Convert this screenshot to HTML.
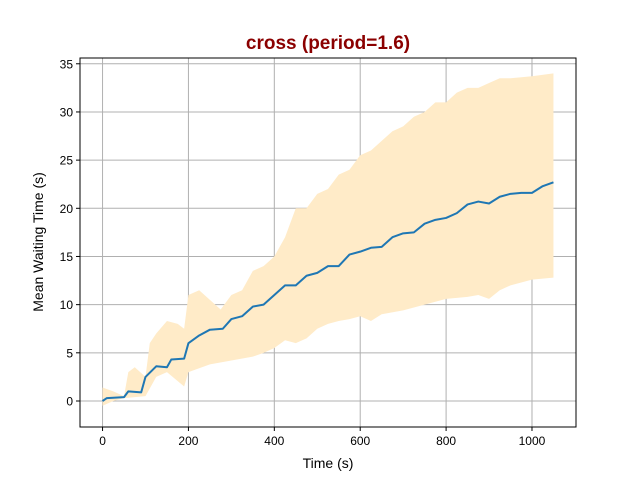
<!DOCTYPE html>
<html><head><meta charset="utf-8"><style>
body{margin:0;background:#fff;}
svg text{font-family:"Liberation Sans","DejaVu Sans",sans-serif;}
</style></head><body>
<svg id="chart" width="640" height="480" xmlns="http://www.w3.org/2000/svg">
<rect width="640" height="480" fill="#fff"/>
<g id="grid"></g>
<g id="band"></g>
<g id="line"></g>
<rect x="80" y="58" width="496" height="369" fill="none" stroke="#000" stroke-width="1"/>
<g id="ticks"></g>
<text x="328" y="49" text-anchor="middle" font-size="19" font-weight="bold" fill="#8b0000">cross (period=1.6)</text>
<text x="328" y="468" text-anchor="middle" font-size="14">Time (s)</text>
<text transform="translate(43,242) rotate(-90)" text-anchor="middle" font-size="14">Mean Waiting Time (s)</text>
</svg>
<script>
const meanX=[0,10,50,60,90,100,125,150,160,190,200,225,250,280,300,325,350,375,400,425,450,475,500,525,550,575,600,625,650,675,700,725,750,775,800,825,850,875,900,925,950,975,1000,1025,1050];
const meanY=[0,0.3,0.4,1.0,0.9,2.5,3.6,3.5,4.3,4.4,6.0,6.8,7.4,7.5,8.5,8.8,9.8,10.0,11.0,12.0,12.0,13.0,13.3,14.0,14.0,15.2,15.5,15.9,16.0,17.0,17.4,17.5,18.4,18.8,19.0,19.5,20.4,20.7,20.5,21.2,21.5,21.6,21.6,22.3,22.7];
const upX=[0,25,50,60,75,100,110,125,150,175,190,200,225,250,275,300,325,350,375,400,425,450,475,500,525,550,575,600,625,650,675,700,725,750,775,800,825,850,875,900,925,950,1000,1050];
const upY=[1.4,1.0,0.5,3.0,3.5,2.5,6,7,8.3,8,7.5,11,11.5,10.5,9.5,11,11.5,13.5,14,15,17,20,20,21.5,22,23.5,24,25.5,26,27,28,28.5,29.5,30,31,31,32,32.5,32.5,33,33.5,33.5,33.7,34];
const loX=[0,25,50,100,125,150,190,200,250,300,350,375,400,425,450,475,500,525,550,575,600,625,650,700,750,800,850,875,900,925,950,1000,1050];
const loY=[-0.5,0,0.3,0.5,2.5,3.0,1.5,3.0,3.8,4.2,4.6,5.0,5.5,6.3,6.0,6.5,7.5,8.0,8.3,8.5,8.8,8.3,9.0,9.4,10.0,10.6,10.8,11,10.6,11.5,12.0,12.6,12.8];
const xTicks=[0,200,400,600,800,1000];
const yTicks=[0,5,10,15,20,25,30,35];
const NS="http://www.w3.org/2000/svg";
const X0=80,X1=576,Y0=427,Y1=58,xmin=-52.5,xmax=1102.5,ymin=-2.7,ymax=35.6;
function sx(v){return X0+(v-xmin)/(xmax-xmin)*(X1-X0);}
function sy(v){return Y0-(v-ymin)/(ymax-ymin)*(Y0-Y1);}
function mk(tag,attrs,parent){const e=document.createElementNS(NS,tag);for(const k in attrs)e.setAttribute(k,attrs[k]);document.getElementById(parent).appendChild(e);return e;}
xTicks.forEach(t=>{
 const g=mk('line',{x1:sx(t),x2:sx(t),y1:Y1,y2:Y0,stroke:'#b0b0b0','stroke-width':1},'grid');
 
 
 const tk=mk('line',{x1:sx(t),x2:sx(t),y1:Y0,y2:Y0+4,stroke:'#000'},'ticks');
 
 
 const tx=mk('text',{x:sx(t),y:Y0+18,'text-anchor':'middle','font-size':12},'ticks');
 tx.textContent=t;
 
 
});
yTicks.forEach(t=>{
 const g=mk('line',{x1:X0,x2:X1,y1:sy(t),y2:sy(t),stroke:'#b0b0b0','stroke-width':1},'grid');
 
 
 const tk=mk('line',{x1:X0-4,x2:X0,y1:sy(t),y2:sy(t),stroke:'#000'},'ticks');
 
 
 const tx=mk('text',{x:X0-7,y:sy(t)+4.5,'text-anchor':'end','font-size':12},'ticks');
 tx.textContent=t;
 
 
});
let d='M'+upX.map((x,i)=>sx(x)+','+sy(upY[i])).join('L');
for(let i=loX.length-1;i>=0;i--)d+='L'+sx(loX[i])+','+sy(loY[i]);
const band=mk('path',{d:d+'Z',fill:'#ffebc8',stroke:'none'},'band');


const ln=mk('polyline',{points:meanX.map((x,i)=>sx(x)+','+sy(meanY[i])).join(' '),fill:'none',stroke:'#1f77b4','stroke-width':2,'stroke-linejoin':'round'},'line');


</script>
</body></html>
